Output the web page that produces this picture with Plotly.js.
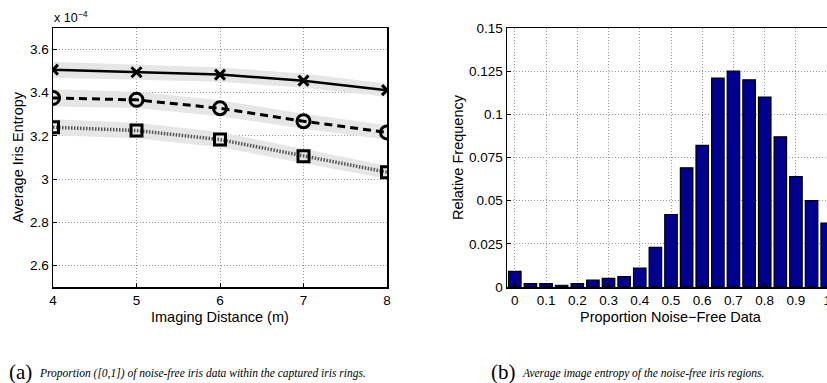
<!DOCTYPE html>
<html>
<head>
<meta charset="utf-8">
<script src="https://cdn.plot.ly/plotly-3.0.1.min.js"></script>
<style>
html,body{margin:0;padding:0;overflow:hidden;background:#fff;width:827px;height:383px;}
#chart{width:880px;height:383px;}
</style>
</head>
<body>
<div id="chart"></div>
<script>
// Left panel: average iris entropy (x 1e-4) vs imaging distance
const distances = [4, 5, 6, 7, 8];
const entropyCross = [3.507, 3.495, 3.484, 3.456, 3.412];
const entropyCircle = [3.376, 3.367, 3.328, 3.268, 3.216];
const entropySquare = [3.240, 3.225, 3.183, 3.106, 3.032];
const bandCross = [0.037, 0.035, 0.033, 0.033, 0.03];
const bandCircle = [0.04, 0.038, 0.037, 0.035, 0.033];
const bandSquare = [0.037, 0.036, 0.035, 0.033, 0.03];
const leftYTicks = [2.6, 2.8, 3.0, 3.2, 3.4, 3.6];
const leftXTicks = [4, 5, 6, 7, 8];

// Right panel: histogram of proportion of noise-free data
const proportionBins = [0, 0.05, 0.1, 0.15, 0.2, 0.25, 0.3, 0.35, 0.4, 0.45, 0.5, 0.55, 0.6, 0.65, 0.7, 0.75, 0.8, 0.85, 0.9, 0.95, 1.0];
const relFrequency = [0.009, 0.002, 0.002, 0.001, 0.002, 0.004, 0.005, 0.006, 0.011, 0.023, 0.042, 0.069, 0.082, 0.121, 0.125, 0.120, 0.110, 0.087, 0.064, 0.050, 0.037];
const rightYTicks = [0, 0.025, 0.05, 0.075, 0.1, 0.125, 0.15];
const rightXTicks = [0, 0.1, 0.2, 0.3, 0.4, 0.5, 0.6, 0.7, 0.8, 0.9, 1];

const W = 880, H = 383;
const px = v => v / W;
const py = v => 1 - v / H;

function band(y, w) {
  const up = y.map((v, i) => v + w[i]);
  const lo = y.map((v, i) => v - w[i]);
  return [
    {x: distances, y: up, mode: 'lines', line: {width: 0, color: 'rgba(0,0,0,0)'}, xaxis: 'x', yaxis: 'y', showlegend: false, hoverinfo: 'skip'},
    {x: distances, y: lo, mode: 'lines', line: {width: 0, color: 'rgba(0,0,0,0)'}, fill: 'tonexty', fillcolor: '#e6e6e6', xaxis: 'x', yaxis: 'y', showlegend: false, hoverinfo: 'skip'}
  ];
}

const traces = [
  ...band(entropyCross, bandCross),
  ...band(entropyCircle, bandCircle),
  ...band(entropySquare, bandSquare),
  {x: distances, y: entropySquare, mode: 'lines', line: {color: '#555', width: 3.5, dash: '1.5px,1.5px'}, xaxis: 'x', yaxis: 'y', showlegend: false},
  {x: distances, y: entropySquare, mode: 'markers', marker: {symbol: 'square-open', size: 11, color: '#000', line: {width: 3, color: '#000'}}, xaxis: 'x', yaxis: 'y', showlegend: false},
  {x: distances, y: entropyCircle, mode: 'lines+markers', line: {color: '#000', width: 3, dash: '8px,5px'}, marker: {symbol: 'circle-open', size: 13, color: '#000', line: {width: 3, color: '#000'}}, xaxis: 'x', yaxis: 'y', showlegend: false},
  {x: distances, y: entropyCross, mode: 'lines+markers', line: {color: '#000', width: 2.5}, marker: {symbol: 'x-thin', size: 10, color: '#000', line: {width: 3, color: '#000'}}, xaxis: 'x', yaxis: 'y', showlegend: false},
  {x: proportionBins, y: relFrequency, type: 'bar', width: 0.04, marker: {color: '#00008f', line: {color: '#000', width: 1.2}}, xaxis: 'x2', yaxis: 'y2', showlegend: false}
];

const tickFont = {family: 'Liberation Sans, Arial, sans-serif', size: 13.5, color: '#000'};
const titleFont = {family: 'Liberation Sans, Arial, sans-serif', size: 14.5, color: '#000'};
const serif = 'Liberation Serif, Times New Roman, serif';
const axisCommon = {
  showline: true, mirror: true, linecolor: '#000', linewidth: 1.5,
  ticks: 'inside', ticklen: 4, tickcolor: '#000', tickwidth: 1,
  showgrid: true, gridcolor: '#999', griddash: '1px,2px', gridwidth: 1,
  zeroline: false, tickfont: tickFont
};

const layout = {
  width: W, height: H,
  margin: {l: 0, r: 0, t: 0, b: 0},
  paper_bgcolor: '#fff', plot_bgcolor: '#fff',
  font: tickFont,
  xaxis: Object.assign({}, axisCommon, {
    domain: [px(53), px(387)], range: [4, 8], tickvals: leftXTicks,
    anchor: 'y'
  }),
  yaxis: Object.assign({}, axisCommon, {
    domain: [py(287), py(28)], range: [2.5, 3.7], tickvals: leftYTicks,
    ticktext: leftYTicks.map(v => String(v)),
    title: {text: 'Average Iris Entropy', font: titleFont, standoff: 3}, anchor: 'x'
  }),
  xaxis2: Object.assign({}, axisCommon, {
    domain: [px(507), px(835)], range: [-0.025, 1.025], tickvals: rightXTicks,
    ticktext: rightXTicks.map(v => String(v)),
    anchor: 'y2'
  }),
  yaxis2: Object.assign({}, axisCommon, {
    domain: [py(287), py(28)], range: [0, 0.15], tickvals: rightYTicks,
    ticktext: rightYTicks.map(v => String(v)),
    title: {text: 'Relative Frequency', font: titleFont, standoff: 2}, anchor: 'x2'
  }),
  annotations: [
    {xref: 'paper', yref: 'paper', x: px(220), y: py(317), xanchor: 'center', yanchor: 'middle', borderpad: 0,
     text: 'Imaging Distance (m)', showarrow: false, font: titleFont},
    {xref: 'paper', yref: 'paper', x: px(671), y: py(317), xanchor: 'center', yanchor: 'middle', borderpad: 0,
     text: 'Proportion Noise\u2212Free Data', showarrow: false, font: titleFont},
    {xref: 'paper', yref: 'paper', x: px(52), y: py(17), xanchor: 'left', yanchor: 'middle',
     text: 'x 10<sup>\u22124</sup>', showarrow: false, font: {family: tickFont.family, size: 12.5, color: '#000'}},
    {xref: 'paper', yref: 'paper', x: px(7), y: py(372), xanchor: 'left', yanchor: 'middle', showarrow: false,
     text: '(a)', font: {family: serif, size: 21, color: '#000'}},
    {xref: 'paper', yref: 'paper', x: px(37), y: py(373), xanchor: 'left', yanchor: 'middle', showarrow: false,
     text: '<i>Proportion ([0,1]) of noise-free iris data within the captured iris rings.</i>',
     font: {family: serif, size: 11.5, color: '#000'}},
    {xref: 'paper', yref: 'paper', x: px(489), y: py(372), xanchor: 'left', yanchor: 'middle', showarrow: false,
     text: '(b)', font: {family: serif, size: 21, color: '#000'}},
    {xref: 'paper', yref: 'paper', x: px(520), y: py(373), xanchor: 'left', yanchor: 'middle', showarrow: false,
     text: '<i>Average image entropy of the noise-free iris regions.</i>',
     font: {family: serif, size: 11.5, color: '#000'}}
  ]
};

Plotly.newPlot('chart', traces, layout, {staticPlot: true, displayModeBar: false});
</script>
</body>
</html>
